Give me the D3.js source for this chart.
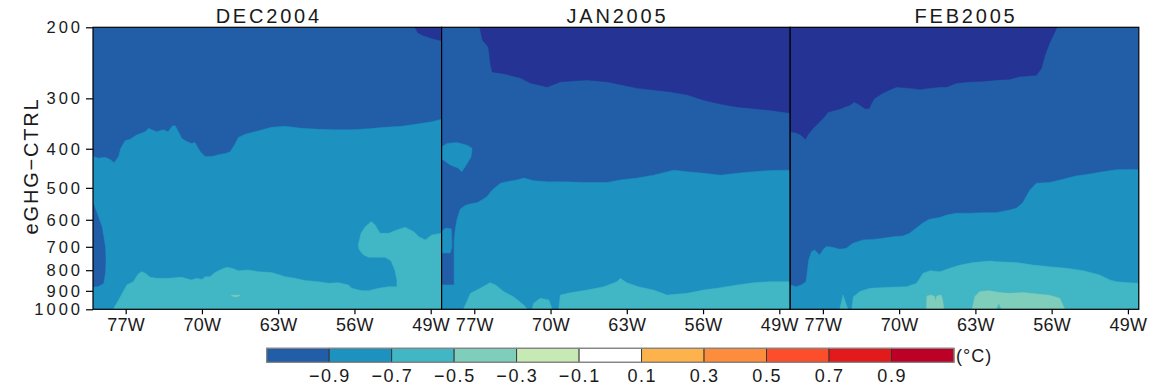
<!DOCTYPE html>
<html><head><meta charset="utf-8">
<script src="https://cdn.jsdelivr.net/npm/d3@7"></script>
<style>
body{margin:0;background:#fff}
svg{display:block}
text{font-family:"Liberation Sans",Arial,Helvetica,sans-serif;fill:#1a1a1a}
</style>
</head><body>
<svg id="c" width="1154" height="389"></svg>
<script>
// ---------- data ----------
const panelTitles = ["DEC2004", "JAN2005", "FEB2005"];
const lonDomain = [-80, -48];
const lonTicks = [-77, -70, -63, -56, -49];
const presTicks = [200, 300, 400, 500, 600, 700, 800, 900, 1000];
const levels = [-0.9, -0.7, -0.5, -0.3, -0.1, 0.1, 0.3, 0.5, 0.7, 0.9];
const barColors = ["#225ea8", "#1d91c0", "#41b6c4", "#7fcdbb", "#c7e9b4", "#ffffff",
                   "#feb24c", "#fd8d3c", "#fc4e2a", "#e31a1c", "#bd0026"];
const belowColor = "#253494";   // shading for values under -1.1
const unitLabel = "(°C)";
const yTitle = "eGHG\u2212CTRL";

// DEC2004 regions ([lon, hPa])
const decBaseValue = -1.0;
const decTopRight = [[-50.45,200],[-50.2,206],[-49.8,209],[-48.9,213],[-48,216],[-48,200]];
const decMid = [[-80,418],[-79.5,422],[-78.9,420],[-78.45,425],[-78.05,433],[-77.65,418],[-77.45,399],
  [-77.05,382],[-76.6,379],[-76,370],[-75.2,363],[-74.9,356],[-74.6,359],[-74.15,363],[-73.55,359],
  [-73.1,363],[-72.7,351],[-72.45,351],[-72.15,363],[-71.85,377],[-71.4,384],[-70.95,388],[-70.65,386],
  [-70.15,407],[-69.7,418],[-69.1,418],[-68.5,414],[-67.85,411],[-67.4,407],[-66.95,389],[-66.65,375],
  [-66,368],[-64.8,361],[-63.6,354],[-62.35,352],[-60.85,356],[-59.3,358],[-57.75,359],[-56.25,359],
  [-54.7,357],[-53.2,354],[-51.65,352],[-50.1,347],[-48.9,343],[-48,338],[-48,1000],[-80,1000]];
const decLeftStrip = [[-80,546],[-79.65,578],[-79.2,624],[-78.9,699],[-78.85,755],[-78.9,814],
  [-79.05,862],[-79.5,875],[-80,879]];
const decLow = [[-78.15,1000],[-77.65,948],[-76.9,870],[-76.3,854],[-75.85,817],[-75.55,807],[-75.2,814],
  [-74.75,833],[-74.15,838],[-73.1,838],[-71.85,833],[-70.95,846],[-70.5,838],[-70,843],[-69.7,830],
  [-69.25,830],[-68.8,811],[-68.2,796],[-67.7,787],[-67.25,791],[-66.65,802],[-65.75,799],[-64.8,807],
  [-63.6,811],[-62.35,830],[-61.45,838],[-60.55,849],[-59.3,854],[-58.4,862],[-57.45,859],[-56.55,870],
  [-56.25,887],[-55.3,899],[-54.7,899],[-53.8,887],[-52.85,879],[-52.1,879],[-52.1,846],[-52.3,799],
  [-52.65,758],[-53.2,743],[-54.1,743],[-54.7,743],[-55.15,733],[-55.55,713],[-55.65,693],[-55.4,648],
  [-55,624],[-54.45,606],[-54.1,618],[-53.65,648],[-52.85,648],[-52.1,636],[-51.35,626],[-50.55,642],
  [-50.1,661],[-49.5,673],[-48.9,654],[-48,648],[-48,1000]];
const decSpot = [[-67.3,923],[-66.5,923],[-66.8,931],[-67.1,930]];

// JAN2005 regions
const janBaseValue = -1.0;
const janTop = [[-76.5,200],[-76.25,215],[-75.7,224],[-75.5,248],[-75.35,258],[-74.15,261],[-72.75,267],
  [-71.85,275],[-70.3,281],[-69.1,273],[-66.65,270],[-64.8,273],[-62.05,283],[-59,289],[-57.45,294],
  [-55.95,303],[-54.4,310],[-52.85,315],[-49.8,321],[-48,326],[-48,200]];
const janBlob = [[-80,400],[-79.95,395],[-79.5,388],[-78.6,386],[-77.65,392],[-77.2,399],[-77.3,419],
  [-77.65,435],[-78.15,456],[-78.45,447],[-79.2,439],[-79.8,427],[-80,425]];
const janMid = [[-78.85,870],[-78.85,673],[-78.75,636],[-78.6,601],[-78.3,565],[-77.85,553],[-77.4,548],
  [-76.75,544],[-76.3,536],[-75.85,526],[-75.35,506],[-74.6,487],[-74,483],[-73.1,478],[-72.45,473],
  [-71.55,480],[-70.3,483],[-68.8,483],[-66.65,485],[-64.8,485],[-63.6,478],[-62.05,473],[-60.55,465],
  [-58.7,452],[-57.45,456],[-55.95,460],[-54.4,465],[-52.85,460],[-51.35,456],[-49.8,453],[-48,452],
  [-48,1000],[-80,1000],[-80,870]];
const janIsland = [[-80,640],[-79.6,629],[-79.1,632],[-79.05,700],[-79.2,725],[-80,725]];
const janLowA = [[-78,1000],[-77.35,913],[-76.45,887],[-75.55,859],[-75.05,870],[-74.3,904],[-73.4,931],
  [-72.45,976],[-72.15,1000]];
const janLowB = [[-71.7,1000],[-71.55,966],[-70.95,939],[-70.15,948],[-69.85,1000]];
const janLowC = [[-69.25,1000],[-69.1,922],[-68.2,910],[-66.65,896],[-65.1,879],[-63.9,854],[-63.6,838],
  [-63,859],[-61.95,879],[-60.55,896],[-59.3,922],[-57.45,913],[-55.95,896],[-54.4,884],[-52.85,870],
  [-51.35,859],[-49.8,854],[-48,854],[-48,1000]];

// FEB2005 regions
const febBaseValue = -1.0;
const febTop = [[-80,200],[-80,363],[-79.45,365],[-79,370],[-78.6,379],[-78.4,370],[-77.9,356],[-77.3,343],
  [-76.85,333],[-76.55,325],[-76.1,322],[-75.45,319],[-75,315],[-74.55,312],[-74.1,306],[-73.5,313],
  [-73.15,318],[-72.75,318],[-72.55,309],[-72.25,300],[-71.5,291],[-70.9,286],[-70.25,281],[-69.05,283],
  [-68.1,285],[-67.2,283],[-66.3,281],[-65.65,281],[-64.75,275],[-63.55,273],[-62.3,272],[-61.1,270],
  [-59.85,269],[-58.95,265],[-58.3,264],[-57.4,263],[-56.95,253],[-56.65,236],[-56.2,219],[-55.7,205],
  [-55.5,200]];
const febMid = [[-80,870],[-79.45,879],[-79,870],[-78.55,854],[-78.45,814],[-78.3,755],[-78.05,720],
  [-77.75,713],[-77.3,733],[-77,713],[-76.7,699],[-76.1,702],[-75.45,710],[-74.85,706],[-74.25,686],
  [-73.3,673],[-72.4,671],[-71.5,667],[-70.55,661],[-69.65,658],[-69.05,648],[-68.45,630],[-67.8,610],
  [-67.2,598],[-66.3,592],[-65.65,584],[-64.75,578],[-63.55,578],[-62.3,576],[-61.1,576],[-59.85,567],
  [-59.25,562],[-58.65,544],[-58,506],[-57.4,487],[-56.2,485],[-54.95,476],[-53.75,467],[-52.5,462],
  [-51.3,456],[-50.05,451],[-48.85,450],[-48,451],[-48,1000],[-80,1000]];
const febSpike = [[-75.45,1000],[-75.15,922],[-74.7,1000]];
const febLow = [[-74.35,1000],[-74.2,931],[-73.6,904],[-72.7,887],[-70.85,882],[-69.3,879],[-68.4,862],
  [-67.8,814],[-67.15,802],[-66.25,807],[-65.35,791],[-64.4,777],[-63.2,766],[-61.65,759],[-61.1,762],
  [-59.25,766],[-57.7,777],[-56.2,784],[-54.65,791],[-53.1,802],[-51.6,822],[-50.65,846],[-50.05,854],
  [-48.85,859],[-48,862],[-48,1000]];
const febPatchA = [[-67.5,1000],[-67.45,927],[-67.05,921],[-66.75,930],[-66.65,957],[-66.55,927],
  [-66.15,921],[-66,947],[-65.9,1000]];
const febPatchB = [[-63.3,1000],[-63.05,930],[-62.6,904],[-61.7,899],[-60.8,909],[-59.85,913],[-58.65,909],
  [-57.4,916],[-56.2,923],[-55.25,939],[-54.8,1000],[-60.6,1000],[-60.85,966],[-61.1,1000]];

const panels = [
  {title: panelTitles[0], base: decBaseValue, regions: [
    {v: -1.2, pts: decTopRight}, {v: -0.8, pts: decMid}, {v: -1.0, pts: decLeftStrip},
    {v: -0.6, pts: decLow}, {v: -0.4, pts: decSpot}]},
  {title: panelTitles[1], base: janBaseValue, regions: [
    {v: -1.2, pts: janTop}, {v: -0.8, pts: janBlob}, {v: -0.8, pts: janMid}, {v: -0.8, pts: janIsland},
    {v: -0.6, pts: janLowA}, {v: -0.6, pts: janLowB}, {v: -0.6, pts: janLowC}]},
  {title: panelTitles[2], base: febBaseValue, regions: [
    {v: -1.2, pts: febTop}, {v: -0.8, pts: febMid}, {v: -0.6, pts: febSpike}, {v: -0.6, pts: febLow},
    {v: -0.4, pts: febPatchA}, {v: -0.4, pts: febPatchB}]}
];

// ---------- drawing ----------
const svg = d3.select("#c");
const X0 = 93, PW = 348.6, TOP = 27.3, BOT = 309.3;
const y = d3.scaleLog().domain([200, 1000]).range([TOP, BOT]);
const color = d3.scaleThreshold().domain([-1.1, ...levels]).range([belowColor, ...barColors]);

panels.forEach((p, i) => {
  const x = d3.scaleLinear().domain(lonDomain).range([X0 + i * PW, X0 + (i + 1) * PW]);
  const cid = "clip" + i;
  svg.append("clipPath").attr("id", cid).append("rect")
    .attr("x", x(lonDomain[0])).attr("y", TOP).attr("width", PW).attr("height", BOT - TOP);
  const g = svg.append("g").attr("clip-path", `url(#${cid})`);
  g.append("rect").attr("x", x(lonDomain[0])).attr("y", TOP).attr("width", PW).attr("height", BOT - TOP)
    .attr("fill", color(p.base));
  const line = d3.line().x(d => x(d[0])).y(d => y(d[1]));
  p.regions.forEach(r => {
    g.append("path").attr("d", line(r.pts) + "Z").attr("fill", color(r.v))
      .attr("stroke", color(r.v)).attr("stroke-width", 0.5);
  });
  svg.append("rect").attr("x", x(lonDomain[0])).attr("y", TOP).attr("width", PW).attr("height", BOT - TOP)
    .attr("fill", "none").attr("stroke", "#000").attr("stroke-width", 1.2);

  svg.append("text").attr("x", (x(lonDomain[0]) + x(lonDomain[1])) / 2 + 1.5).attr("y", 22.5)
    .attr("text-anchor", "middle").style("font-size", "20px").style("letter-spacing", "2.8px")
    .text(p.title);

  const ax = svg.append("g").attr("transform", `translate(0,${BOT})`)
    .call(d3.axisBottom(x).tickValues(lonTicks).tickFormat(d => Math.abs(d) + "W").tickSize(5).tickPadding(4));
  ax.select(".domain").remove();
  ax.attr("font-family", null);
  ax.selectAll("line").attr("stroke", "#000").attr("stroke-width", 1.2);
  ax.selectAll("text").style("font-size", "18px").attr("fill", "#1a1a1a").style("letter-spacing", "0.3px");
});

const ay = svg.append("g").attr("transform", `translate(${X0},0)`)
  .call(d3.axisLeft(y).tickValues(presTicks).tickFormat(d => d).tickSize(7).tickPadding(6));
ay.select(".domain").remove();
ay.attr("font-family", null);
ay.selectAll("line").attr("stroke", "#000").attr("stroke-width", 1.2);
ay.selectAll("text").style("font-size", "16.5px").style("letter-spacing", "3px").attr("fill", "#1a1a1a")
  .attr("dx", "3px");

svg.append("text").attr("transform", "translate(38,166) rotate(-90)").attr("text-anchor", "middle")
  .style("font-size", "20px").style("letter-spacing", "1.8px").text(yTitle);

// colorbar
const cb = d3.scaleBand().domain(d3.range(barColors.length)).range([266.7, 954]);
const CBY = 348.3, CBH = 14;
const cbg = svg.append("g");
cbg.selectAll("rect.box").data(barColors).join("rect").attr("class", "box")
  .attr("x", (d, i) => cb(i)).attr("y", CBY).attr("width", cb.bandwidth()).attr("height", CBH)
  .attr("fill", d => d).attr("stroke", "#333").attr("stroke-width", 0.9);
cbg.append("rect").attr("x", 266.7).attr("y", CBY).attr("width", 954 - 266.7).attr("height", CBH)
  .attr("fill", "none").attr("stroke", "#8a8a8a").attr("stroke-width", 1.2);
const fmt = d3.format(".1f");
cbg.selectAll("text.lab").data(levels).join("text").attr("class", "lab")
  .attr("x", (d, i) => cb(i + 1) + 0.7).attr("y", 381.5).attr("text-anchor", "middle")
  .style("font-size", "18px").style("letter-spacing", "1.6px").text(d => fmt(d));
cbg.append("text").attr("x", 956).attr("y", 361.5).style("font-size", "18px").style("letter-spacing", "1px")
  .text(unitLabel);
</script>
</body></html>
